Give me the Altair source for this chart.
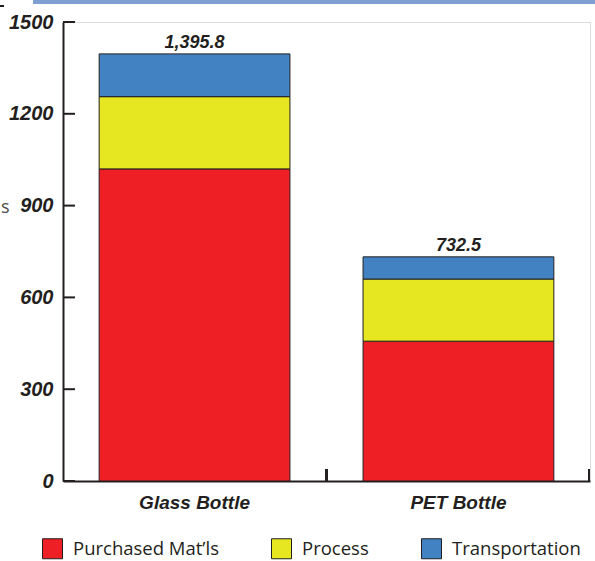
import altair as alt
import pandas as pd

bottles = ["Glass Bottle", "PET Bottle"]
stages = ["Purchased Mat’ls", "Process", "Transportation"]
glass_values = [1020.0, 236.0, 139.8]
pet_values = [457.0, 203.0, 72.5]
total_values = [1395.8, 732.5]
total_labels = ["1,395.8", "732.5"]
y_ticks = [0, 300, 600, 900, 1200, 1500]
colors = ["#EE1F25", "#E6E621", "#4282C3"]

rows = []
for b, vals in zip(bottles, [glass_values, pet_values]):
    for i, (s, v) in enumerate(zip(stages, vals)):
        rows.append({"bottle": b, "stage": s, "value": v, "order": i})
df = pd.DataFrame(rows)
totals = pd.DataFrame({"bottle": bottles, "value": total_values, "label": total_labels})
ticks = pd.DataFrame({"value": y_ticks})

W, H = 527, 459
INK = "#231F20"
COND = "Liberation Sans"
REG = "Open Sans, sans-serif"

xenc = alt.X("bottle:N", sort=bottles,
             scale=alt.Scale(paddingInner=0.277, paddingOuter=0.137),
             axis=alt.Axis(title=None, labelAngle=0, labelFont=COND, labelFontSize=19,
                           labelFontWeight="bold", labelFontStyle="italic", labelColor=INK,
                           domainColor=INK, domainWidth=2, ticks=False, labelPadding=12))
yscale = alt.Scale(domain=[0, 1500], nice=False)

bars = alt.Chart(df).mark_bar(stroke=INK, strokeWidth=1).encode(
    x=xenc,
    y=alt.Y("value:Q", stack="zero", scale=yscale,
            axis=alt.Axis(title=None, values=y_ticks, format="d", ticks=False, grid=False,
                          labelPadding=10, labelFont=COND, labelFontSize=20, labelFontWeight="bold",
                          labelFontStyle="italic", labelColor=INK, domainColor=INK, domainWidth=2)),
    color=alt.Color("stage:N", scale=alt.Scale(domain=stages, range=colors),
                    legend=alt.Legend(title=None, orient="none", legendX=-21, legendY=516,
                                      direction="horizontal", symbolType="square", symbolSize=400,
                                      symbolStrokeColor=INK, symbolStrokeWidth=1, symbolOpacity=1,
                                      labelFont=REG, labelFontSize=18.5, labelColor=INK,
                                      labelOffset=10, columnPadding=50, labelLimit=300)),
    order=alt.Order("order:Q"),
)

text = alt.Chart(totals).mark_text(font=COND, fontSize=18, fontWeight="bold", fontStyle="italic",
                                   color=INK, baseline="alphabetic", dy=-6).encode(
    x=alt.X("bottle:N", sort=bottles), y=alt.Y("value:Q", scale=yscale), text="label:N")

yticks = alt.Chart(ticks).mark_rule(color=INK, strokeWidth=2).encode(
    y=alt.Y("value:Q", scale=yscale), x=alt.value(0), x2=alt.value(12))

xtick_mid = alt.Chart(ticks).mark_rule(color=INK, strokeWidth=2).encode(
    x=alt.value(W / 2), y=alt.value(H - 12), y2=alt.value(H))
xtick_end = alt.Chart(ticks).mark_rule(color=INK, strokeWidth=2).encode(
    x=alt.value(W - 1), y=alt.value(H - 12), y2=alt.value(H))

topline = alt.Chart(ticks).mark_rule(color="#7F9FD1", strokeWidth=4).encode(
    x=alt.value(-30), x2=alt.value(532), y=alt.value(-20.5))
dash = alt.Chart(ticks).mark_rule(color=INK, strokeWidth=1.5).encode(
    x=alt.value(-63), x2=alt.value(-59), y=alt.value(-16))
stub = alt.Chart(pd.DataFrame({"t": ["s"]})).mark_text(font=REG, fontSize=18, color="#4D4D4D",
                                                      align="left", baseline="alphabetic").encode(
    x=alt.value(-62), y=alt.value(191), text="t:N")

chart = alt.layer(bars, text, yticks, xtick_mid, xtick_end, topline, dash, stub).properties(
    width=W, height=H, autosize="none",
    padding={"left": 63, "top": 22, "right": 5, "bottom": 80},
).configure_view(stroke=None).configure(background="white")

chart.save("out.html", embed_options={"renderer": "svg", "actions": False})
